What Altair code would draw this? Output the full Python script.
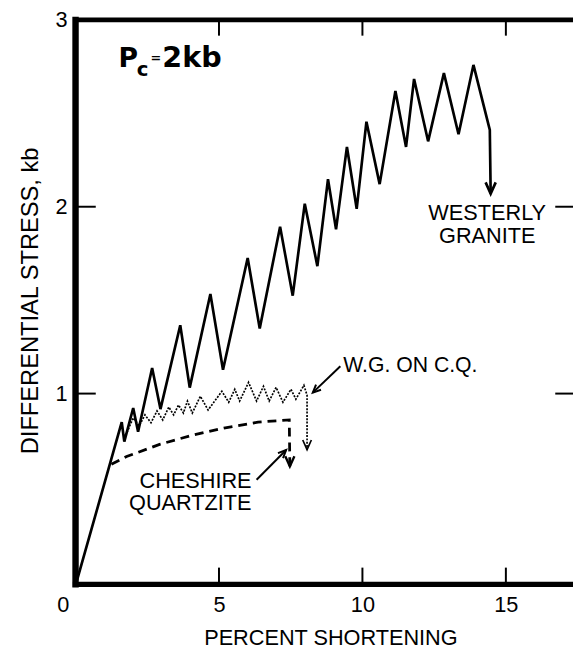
import altair as alt
import pandas as pd

# ---------------- data ----------------
# Westerly granite (solid, stick-slip); last point = foot of the failure arrow
granite_x = [0.05, 1.61, 1.70, 2.01, 2.18, 2.67, 2.96, 3.65, 3.98, 4.70, 5.14, 6.00, 6.42,
             7.13, 7.57, 7.99, 8.43, 8.80, 9.08, 9.46, 9.80, 10.14, 10.60, 11.15, 11.52,
             11.80, 12.29, 12.84, 13.35, 13.87, 14.44, 14.47]
granite_y = [0.00, 0.847, 0.743, 0.923, 0.796, 1.137, 0.917, 1.366, 1.032, 1.533, 1.128,
             1.726, 1.348, 1.893, 1.524, 2.016, 1.682, 2.147, 1.879, 2.320, 1.989, 2.455,
             2.121, 2.619, 2.320, 2.684, 2.350, 2.715, 2.388, 2.759, 2.411, 2.07]

# W.G. on C.Q. (dotted)
wgcq_x = [1.70, 2.01, 2.22, 2.42, 2.63, 2.84, 3.04, 3.25, 3.42, 3.59, 3.76, 3.90, 4.07,
          4.35, 4.62, 5.10, 5.34, 5.55, 5.72, 6.03, 6.31, 6.55, 6.75, 6.99, 7.23, 7.51,
          7.68, 7.96, 8.07, 8.07]
wgcq_y = [0.759, 0.870, 0.828, 0.886, 0.844, 0.907, 0.859, 0.928, 0.886, 0.939, 0.896,
          0.960, 0.896, 0.986, 0.912, 1.012, 0.954, 1.023, 0.960, 1.060, 0.960, 1.039,
          0.960, 1.033, 0.954, 1.023, 0.970, 1.044, 0.991, 0.70]

# Cheshire quartzite (dashed)
cq_x = [1.25, 1.78, 2.93, 4.07, 5.22, 6.36, 7.45, 7.47]
cq_y = [0.622, 0.663, 0.728, 0.777, 0.817, 0.847, 0.859, 0.61]

# arrow tips (failure arrows) and annotation leaders
tip_granite = (14.47, 2.07)
tip_wgcq = (8.07, 0.70)
tip_cq = (7.47, 0.61)
lead_wg = (9.23, 1.146, 8.27, 1.005)
lead_cq = (6.31, 0.539, 7.34, 0.698)

x_labels = [0, 5, 10, 15]
x_inner_ticks = [5, 10, 15]
y_labels = [1, 2, 3]
y_inner_ticks = [1, 2]

# ---------------- layout ----------------
XMAX = 17.34
W, H = 504.5, 568.5
FONT = "Liberation Sans"
ARROW = "M -0.45 -1 L 0 0 L 0.45 -1"

axis_x = alt.Axis(values=x_labels, domain=False, ticks=False, grid=False,
                  labelFont=FONT, labelFontSize=22, labelColor="black", labelPadding=15,
                  labelOffset={"condition": {"test": "datum.value === 0", "value": -13}, "value": 0},
                  labelFlush=False, labelOverlap=False,
                  title="PERCENT SHORTENING", titleFont=FONT, titleFontSize=22,
                  titleFontWeight="normal", titleColor="black",
                  titleX=258.5, titleY=65, titleBaseline="alphabetic", titleAlign="center")
axis_y = alt.Axis(values=y_labels, domain=False, ticks=False, grid=False,
                  labelFont=FONT, labelFontSize=22, labelColor="black", labelPadding=8.5,
                  labelFlush=False, labelOverlap=False,
                  title="DIFFERENTIAL STRESS, kb", titleFont=FONT, titleFontSize=24,
                  titleFontWeight="normal", titleColor="black",
                  titleX=-39, titleY=284.5, titleAngle=270,
                  titleBaseline="alphabetic", titleAlign="center")

X = alt.X("x:Q", scale=alt.Scale(domain=[0, XMAX], nice=False, zero=False), axis=axis_x)
Y = alt.Y("y:Q", scale=alt.Scale(domain=[0, 3], nice=False, zero=False), axis=axis_y)


def series(xs, ys):
    return pd.DataFrame({"x": xs, "y": ys, "i": list(range(len(xs)))})


one = pd.DataFrame({"k": [0]})

granite = alt.Chart(series(granite_x, granite_y)).mark_line(
    color="black", strokeWidth=2.7, strokeJoin="miter").encode(x=X, y=Y, order="i:O")
wgcq = alt.Chart(series(wgcq_x, wgcq_y)).mark_line(
    color="black", strokeWidth=1.7, strokeDash=[2, 1.4]).encode(x=X, y=Y, order="i:O")
cq = alt.Chart(series(cq_x, cq_y)).mark_line(
    color="black", strokeWidth=2.8, strokeDash=[9, 6]).encode(x=X, y=Y, order="i:O")


def head(pt, size, sw, angle):
    return alt.Chart(pd.DataFrame({"x": [pt[0]], "y": [pt[1]]})).mark_point(
        shape=ARROW, filled=False, color="black", opacity=1, strokeWidth=sw,
        size=size, angle=angle).encode(x=X, y=Y)


def leader(seg):
    df = pd.DataFrame({"x": [seg[0]], "y": [seg[1]], "x2": [seg[2]], "y2": [seg[3]]})
    return alt.Chart(df).mark_rule(color="black", strokeWidth=2).encode(
        x=X, y=Y, x2="x2:Q", y2="y2:Q")


heads = [
    head(tip_granite, 520, 2.7, 0),
    head(tip_cq, 420, 2.4, 0),
    head(tip_wgcq, 380, 1.7, 0),
    head((lead_wg[2], lead_wg[3]), 260, 2, 46),
    head((lead_cq[2], lead_cq[3]), 260, 2, 225),
]

# frame and inward ticks
left_border = alt.Chart(one).mark_rule(color="black", strokeWidth=6.5, strokeCap="square").encode(
    x=alt.value(0), y=alt.value(0), y2=alt.value(H + 4))
top_border = alt.Chart(one).mark_rule(color="black", strokeWidth=5, strokeCap="square").encode(
    y=alt.value(0), x=alt.value(0), x2=alt.value(W))
bottom_border = alt.Chart(one).mark_rule(color="black", strokeWidth=5.5, strokeCap="square").encode(
    y=alt.value(H + 4), x=alt.value(0), x2=alt.value(W))

xt = pd.DataFrame({"x": x_inner_ticks})
yt = pd.DataFrame({"y": y_inner_ticks})
bottom_ticks = alt.Chart(xt).mark_rule(color="black", strokeWidth=2).encode(
    x=X, y=alt.value(H + 4), y2=alt.value(H - 13))
top_ticks = alt.Chart(xt).mark_rule(color="black", strokeWidth=2).encode(
    x=X, y=alt.value(0), y2=alt.value(16))
left_ticks = alt.Chart(yt).mark_rule(color="black", strokeWidth=2).encode(
    y=Y, x=alt.value(0), x2=alt.value(20.5))
right_ticks = alt.Chart(yt).mark_rule(color="black", strokeWidth=2).encode(
    y=Y, x=alt.value(W - 18), x2=alt.value(W))


def label(text, x, y, align="left", size=22, font=FONT, weight="normal"):
    return alt.Chart(one).mark_text(
        text=text, align=align, baseline="alphabetic", font=font, fontSize=size,
        fontWeight=weight, color="black").encode(x=alt.value(x), y=alt.value(y))


texts = [
    label("WESTERLY", 417.5, 202.8, "center"),
    label("GRANITE", 417.5, 226.2, "center"),
    label("W.G. ON C.Q.", 271.5, 357.5, "left", 21.5),
    label("CHESHIRE", 178.5, 474.5, "right"),
    label("QUARTZITE", 178.5, 497.5, "right"),
    label("P", 43.5, 48, "left", 27, "DejaVu Sans", "bold"),
    label("c", 62, 57, "left", 20, "DejaVu Sans", "bold"),
    label("=", 76, 43, "left", 13, "DejaVu Sans", "bold"),
    label("2kb", 88, 48, "left", 29, "DejaVu Sans", "bold"),
]

chart = alt.layer(
    granite, wgcq, cq, *heads, leader(lead_wg), leader(lead_cq),
    left_border, top_border, bottom_border,
    bottom_ticks, top_ticks, left_ticks, right_ticks, *texts
).properties(
    width=W, height=H,
    autosize=alt.AutoSizeParams(type="none"),
    padding={"left": 68.5, "top": 7.5, "right": 0, "bottom": 66},
    background="white",
).configure_view(stroke=None)

chart.save("out.html", embed_options={"renderer": "svg", "actions": False})
